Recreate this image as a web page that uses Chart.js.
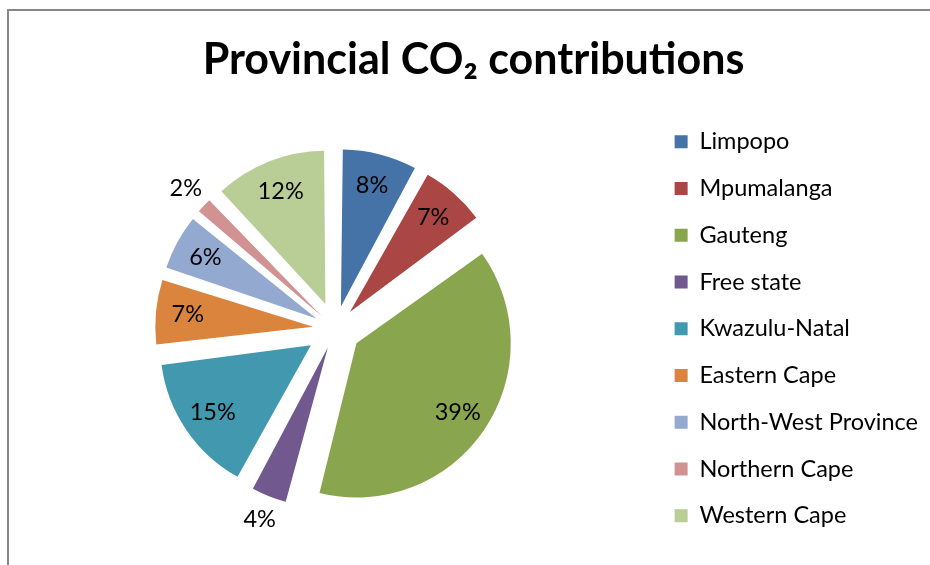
<!DOCTYPE html>
<html>
<head>
<meta charset="utf-8">
<script src="https://cdn.jsdelivr.net/npm/chart.js@4"></script>
<style>
  body { margin: 0; background: #fff; }
  #box { position: relative; width: 930px; height: 565px; }
  #frame {
    position: absolute; left: 7px; top: 9px; right: 0; bottom: 0;
    border-top: 2px solid #878787; border-left: 2px solid #878787;
    pointer-events: none;
  }
</style>
</head>
<body>
<div id="box">
  <canvas id="myChart" width="930" height="565"></canvas>
  <div id="frame"></div>
</div>
<script>
const provinces = [
  'Limpopo',
  'Mpumalanga',
  'Gauteng',
  'Free state',
  'Kwazulu-Natal',
  'Eastern Cape',
  'North-West Province',
  'Northern Cape',
  'Western Cape',
];

// share of CO2 emissions, percent
const shares = [8, 7, 39, 4, 15, 7, 6, 2, 12];

const sliceColors = [
  '#4572A7', '#AA4643', '#89A54E', '#71588F', '#4198AF',
  '#DB843D', '#93A9CF', '#D19392', '#B9CD96',
];

const FONT = 'Lato, "Open Sans", sans-serif';
const EXPLODE = 35; // how far every slice is pulled out of the centre

// arc.draw() moves a slice by offset/4 * (2 - sin(angle)), so undo that
// to get the same gap on every slice
function sliceOffset(ctx) {
  const total = shares.reduce((a, b) => a + b, 0);
  const angle = shares[ctx.dataIndex] / total * Math.PI * 2;
  const fix = 1 - Math.sin(Math.min(Math.PI, angle));
  return EXPLODE * 4 / (1 + fix);
}

// percentage labels: inside the slice, or just outside it when the slice is thin
const percentLabels = {
  id: 'percentLabels',
  afterDatasetsDraw(chart) {
    const ctx = chart.ctx;
    const meta = chart.getDatasetMeta(0);
    ctx.save();
    ctx.font = '23.5px ' + FONT;
    ctx.fillStyle = '#000';
    ctx.textAlign = 'center';
    ctx.textBaseline = 'middle';
    meta.data.forEach((arc, i) => {
      const p = arc.getProps(['x', 'y', 'startAngle', 'endAngle', 'outerRadius'], true);
      const mid = (p.startAngle + p.endAngle) / 2;
      const dist = EXPLODE + (shares[i] < 5 ? p.outerRadius + 25 : p.outerRadius * 0.78);
      ctx.fillText(shares[i] + '%', p.x + Math.cos(mid) * dist, p.y + Math.sin(mid) * dist);
    });
    ctx.restore();
  }
};

const data = {
  labels: provinces,
  datasets: [{
    data: shares,
    backgroundColor: sliceColors,
    borderWidth: 0,
    offset: sliceOffset,
    radius: 145,
  }]
};

const config = {
  type: 'pie',
  data,
  options: {
    responsive: false,
    animation: false,
    layout: { padding: { left: 19, right: 2, top: 0, bottom: 4 } },
    plugins: {
      title: {
        display: true,
        text: 'Provincial CO₂ contributions',
        color: '#000',
        font: { family: FONT, size: 43, weight: 'bold' },
        padding: { top: 34, bottom: 11 },
      },
      legend: {
        position: 'right',
        fullSize: false,
        labels: {
          color: '#000',
          font: { family: FONT, size: 23.5 },
          boxWidth: 13,
          boxHeight: 13,
          padding: 23.25,
        }
      },
      tooltip: { enabled: false },
    }
  },
  plugins: [percentLabels]
};

var myChart = new Chart(document.getElementById('myChart'), config);
</script>
</body>
</html>
